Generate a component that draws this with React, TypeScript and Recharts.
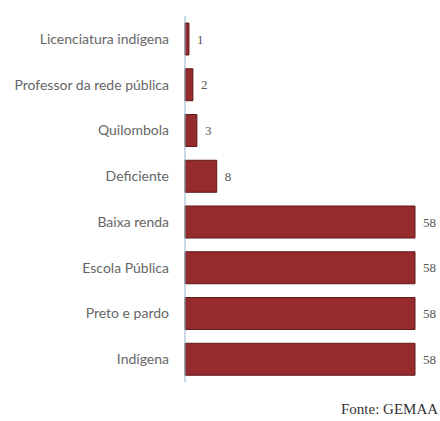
import React from "react";
import { BarChart, Bar, XAxis, YAxis, LabelList } from "recharts";

const categories = [
  "Licenciatura indígena",
  "Professor da rede pública",
  "Quilombola",
  "Deficiente",
  "Baixa renda",
  "Escola Pública",
  "Preto e pardo",
  "Indígena",
];
const counts = [1, 2, 3, 8, 58, 58, 58, 58];

const data = categories.map((name, i) => ({ name, value: counts[i] }));

export default function App() {
  return (
    <div style={{ position: "absolute", left: 0, top: 0, width: 440, height: 421, background: "#fff", overflow: "hidden" }}>
      <BarChart
        width={440}
        height={421}
        data={data}
        layout="vertical"
        margin={{ top: 16, right: 25, bottom: 39, left: 0 }}
      >
        <XAxis type="number" domain={[0, 58]} hide />
        <YAxis
          type="category"
          dataKey="name"
          width={185}
          axisLine={{ stroke: "#8fb4c8" }}
          tickLine={false}
          tickMargin={10}
          tick={{ fill: "#666", fontSize: 14, fontFamily: "Lato, sans-serif" }}
        />
        <Bar dataKey="value" fill="#962b2d" stroke="#5e1a1b" strokeWidth={1} barSize={32} isAnimationActive={false}>
          <LabelList
            dataKey="value"
            position="right"
            offset={8}
            style={{ fill: "#555", fontSize: 13, fontFamily: "'Liberation Serif', serif" }}
          />
        </Bar>
      </BarChart>
      <div
        style={{
          position: "absolute",
          left: 341,
          top: 401,
          fontFamily: "'Liberation Serif', serif",
          fontSize: 15,
          color: "#333",
          whiteSpace: "nowrap",
        }}
      >
        Fonte: GEMAA
      </div>
    </div>
  );
}
